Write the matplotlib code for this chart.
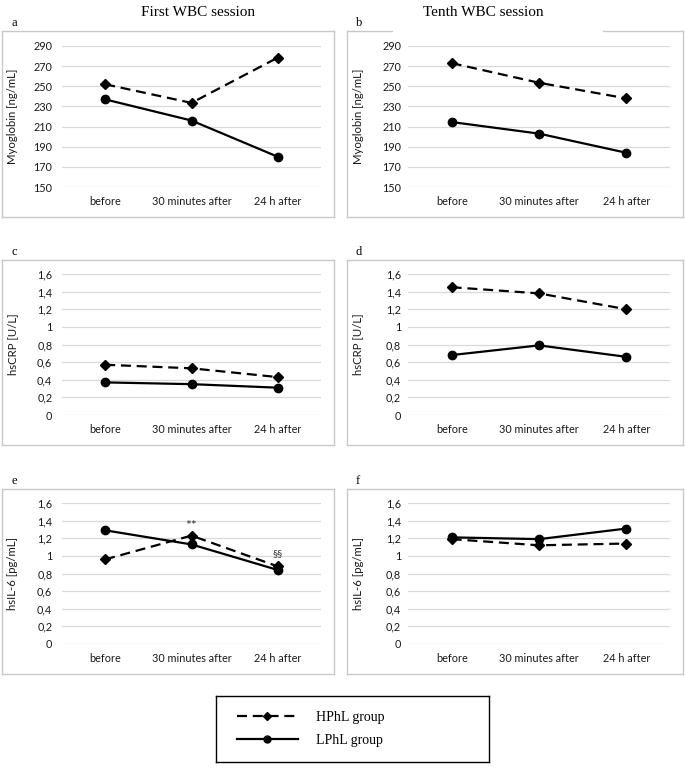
import matplotlib.pyplot as plt
from matplotlib.lines import Line2D

W, H = 685, 768

# data
times = ["before", "30 minutes after", "24 h after"]

myo_first_h = [252, 233.5, 278.5]
myo_first_l = [237, 216, 180]
myo_tenth_h = [273, 253.5, 238]
myo_tenth_l = [214.5, 203, 184]

crp_first_h = [0.57, 0.53, 0.43]
crp_first_l = [0.37, 0.35, 0.31]
crp_tenth_h = [1.45, 1.38, 1.20]
crp_tenth_l = [0.68, 0.79, 0.66]

il6_first_h = [0.96, 1.23, 0.88]
il6_first_l = [1.29, 1.13, 0.84]
il6_tenth_h = [1.19, 1.12, 1.14]
il6_tenth_l = [1.21, 1.19, 1.31]

myo_ticks = [150, 170, 190, 210, 230, 250, 270, 290]
small_ticks = [0, 0.2, 0.4, 0.6, 0.8, 1.0, 1.2, 1.4, 1.6]
small_labels = ["0", "0,2", "0,4", "0,6", "0,8", "1", "1,2", "1,4", "1,6"]

SANS = "Lato"
SERIF = "Liberation Serif"
GRID = "#d9d9d9"
BOX = "#c9c9c9"
TXT = "#1a1a1a"
DASH = (0, (4.5, 2.6))


def fx(x):
    return x / W


def fy(y):
    return 1 - y / H


fig = plt.figure(figsize=(W / 100, H / 100), dpi=100)


def panel_box(x0, y0, x1, y1, gap=None):
    # light grey frame round each sub chart, drawn in pixel space
    kw = dict(color=BOX, lw=1.0, transform=fig.transFigure)
    fig.add_artist(Line2D([fx(x0), fx(x0)], [fy(y0), fy(y1)], **kw))
    fig.add_artist(Line2D([fx(x1), fx(x1)], [fy(y0), fy(y1)], **kw))
    fig.add_artist(Line2D([fx(x0), fx(x1)], [fy(y1), fy(y1)], **kw))
    if gap is None:
        fig.add_artist(Line2D([fx(x0), fx(x1)], [fy(y0), fy(y0)], **kw))
    else:
        fig.add_artist(Line2D([fx(x0), fx(gap[0])], [fy(y0), fy(y0)], **kw))
        fig.add_artist(Line2D([fx(gap[1]), fx(x1)], [fy(y0), fy(y0)], **kw))


def make_panel(px, py, high, low, ticks, labels, ylim, ylabel, letter, box, gap=None, pad=6):
    x0, x1 = px
    y0, y1 = py
    panel_box(*box, gap=gap)
    ax = fig.add_axes([fx(x0), fy(y1), fx(x1) - fx(x0), fy(y0) - fy(y1)])
    xs = list(range(len(times)))
    ax.plot(xs, high, color="black", lw=1.6, linestyle=DASH,
            marker="D", markersize=5, zorder=3)
    ax.plot(xs, low, color="black", lw=1.6, linestyle="-",
            marker="o", markersize=6, zorder=3)
    ax.set_xlim(-0.5, len(times) - 0.5)
    ax.set_ylim(*ylim)
    ax.set_yticks(ticks)
    ax.set_yticklabels(labels)
    ax.set_xticks(xs)
    ax.set_xticklabels(times)
    ax.tick_params(length=0, labelsize=7.8, colors=TXT)
    ax.tick_params(axis="y", pad=pad)
    ax.tick_params(axis="x", pad=6.5)
    for lab in ax.get_xticklabels() + ax.get_yticklabels():
        lab.set_fontfamily(SANS)
    ax.grid(axis="y", color=GRID, lw=0.9)
    ax.set_axisbelow(True)
    for s in ax.spines.values():
        s.set_visible(False)
    ax.patch.set_alpha(0)
    # y label and panel letter
    fig.text(fx(box[0] + 11), fy((y0 + y1) / 2), ylabel, rotation=90, ha="center",
             va="center", fontsize=8.2, fontfamily=SANS, color=TXT)
    fig.text(fx(box[0] + 9), fy(box[1] - 8), letter, ha="left", va="center",
             fontsize=9, fontfamily=SERIF)
    return ax


LX = (62, 321)
RX = (408, 670)
LBOX = (2, 334)
RBOX = (347, 683)

make_panel(LX, (46, 187), myo_first_h, myo_first_l, myo_ticks, [str(t) for t in myo_ticks],
           (150, 290), "Myoglobin [ng/mL]", "a", (LBOX[0], 31, LBOX[1], 217), pad=7)
make_panel(RX, (46, 187), myo_tenth_h, myo_tenth_l, myo_ticks, [str(t) for t in myo_ticks],
           (150, 290), "Myoglobin [ng/mL]", "b", (RBOX[0], 31, RBOX[1], 217), gap=(392, 603), pad=5)
make_panel(LX, (274, 415), crp_first_h, crp_first_l, small_ticks, small_labels,
           (0, 1.6), "hsCRP [U/L]", "c", (LBOX[0], 260, LBOX[1], 445), pad=7)
make_panel(RX, (274, 415), crp_tenth_h, crp_tenth_l, small_ticks, small_labels,
           (0, 1.6), "hsCRP [U/L]", "d", (RBOX[0], 260, RBOX[1], 445), pad=5)
ax_e = make_panel(LX, (503, 644), il6_first_h, il6_first_l, small_ticks, small_labels,
                  (0, 1.6), "hsIL-6 [pg/mL]", "e", (LBOX[0], 489, LBOX[1], 674), pad=7)
make_panel(RX, (503, 644), il6_tenth_h, il6_tenth_l, small_ticks, small_labels,
           (0, 1.6), "hsIL-6 [pg/mL]", "f", (RBOX[0], 489, RBOX[1], 674), pad=5)

# significance marks on panel e
ax_e.annotate("**", (1, il6_first_h[1]), xytext=(0, 7), textcoords="offset points",
              ha="center", va="center", fontsize=10, fontfamily=SANS, color="#333333")
ax_e.annotate("§§", (2, il6_first_h[2]), xytext=(0, 9.5), textcoords="offset points",
              ha="center", va="center", fontsize=7.5, fontfamily=SANS, color="#333333")

# column titles
fig.text(fx(198), fy(12), "First WBC session", ha="center", va="center",
         fontsize=11, fontfamily=SERIF)
fig.text(fx(483), fy(12), "Tenth WBC session", ha="center", va="center",
         fontsize=11, fontfamily=SERIF)

# legend inside a black framed box
lax = fig.add_axes([fx(216), fy(762), fx(489) - fx(216), fy(696) - fy(762)])
lax.set_xticks([])
lax.set_yticks([])
for s in lax.spines.values():
    s.set_color("black")
    s.set_linewidth(1.0)
handles = [
    Line2D([], [], color="black", lw=1.6, linestyle=DASH, marker="D", markersize=4.5),
    Line2D([], [], color="black", lw=1.6, linestyle="-", marker="o", markersize=5),
]
lax.legend(handles, ["HPhL group", "LPhL group"], loc="center left",
           bbox_to_anchor=(0.03, 0.5), frameon=False, handlelength=4.4,
           handletextpad=1.3, labelspacing=0.7, prop={"family": SERIF, "size": 10})

fig.savefig("out.png", dpi=100)
